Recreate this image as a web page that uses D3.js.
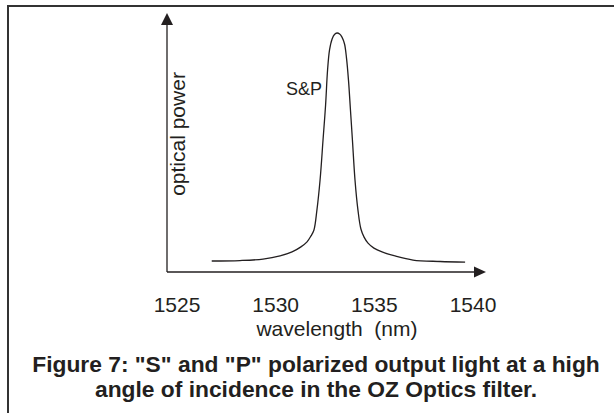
<!DOCTYPE html>
<html>
<head>
<meta charset="utf-8">
<style>
  body { margin: 0; background: #fff; }
  svg { display: block; }
  text { font-family: "Liberation Sans", Arial, sans-serif; fill: #231f20; }
</style>
</head>
<body>
<svg width="614" height="413"></svg>
<script src="https://cdn.jsdelivr.net/npm/d3@7"></script>
<script>

// wavelength (nm) and relative optical power
var wavelength = [1526.76, 1528.19, 1529.36, 1530.22, 1530.83, 1531.28, 1531.59, 1531.79, 1531.94, 1532.09,
                  1532.25, 1532.40, 1532.53, 1532.63, 1532.73, 1532.86, 1532.98, 1533.11, 1533.24, 1533.36,
                  1533.49, 1533.59, 1533.69, 1533.79, 1533.89, 1534.02, 1534.17, 1534.32, 1534.48, 1534.68,
                  1534.98, 1535.39, 1536.05, 1536.96, 1538.33, 1539.60];
var power      = [0.046, 0.048, 0.054, 0.067, 0.084, 0.105, 0.126, 0.151, 0.176, 0.259,
                  0.385, 0.552, 0.699, 0.845, 0.929, 0.975, 0.994, 1.000, 0.996, 0.983,
                  0.954, 0.895, 0.803, 0.678, 0.552, 0.385, 0.259, 0.180, 0.146, 0.121,
                  0.100, 0.084, 0.067, 0.050, 0.044, 0.041];
var xTicks = [1525, 1530, 1535, 1540];
var caption = ["Figure 7: \"S\" and \"P\" polarized output light at a high",
               "angle of incidence in the OZ Optics filter."];

var svg = d3.select("svg");

// frame (top and left edges only)
svg.append("path")
    .attr("d", "M8,413V6H614")
    .attr("fill", "none")
    .attr("stroke", "#333")
    .attr("stroke-width", 2);

var x = d3.scaleLinear().domain([1525, 1540]).range([177, 473]);
var y = d3.scaleLinear().domain([0, 1]).range([272, 33]);

var originX = 167, originY = y(0);

// axes with arrow heads
svg.append("line")
    .attr("x1", originX).attr("x2", 476)
    .attr("y1", originY).attr("y2", originY)
    .attr("stroke", "#231f20").attr("stroke-width", 1.3);
svg.append("path")
    .attr("d", "M474," + (originY - 5.5) + "L486," + originY + "L474," + (originY + 5.5) + "Z")
    .attr("fill", "#231f20");

svg.append("line")
    .attr("x1", originX).attr("x2", originX)
    .attr("y1", originY).attr("y2", 22)
    .attr("stroke", "#231f20").attr("stroke-width", 1.3);
svg.append("path")
    .attr("d", "M" + (originX - 6) + ",25L" + originX + ",13L" + (originX + 6) + ",25Z")
    .attr("fill", "#231f20");

// tick labels
svg.append("g")
  .selectAll("text")
  .data(xTicks)
  .enter().append("text")
    .attr("x", function(d) { return x(d); })
    .attr("y", 312)
    .attr("text-anchor", "middle")
    .attr("font-size", 21)
    .text(function(d) { return d; });

svg.append("text")
    .attr("x", 337)
    .attr("y", 336)
    .attr("text-anchor", "middle")
    .attr("font-size", 21)
    .attr("xml:space", "preserve")
    .text("wavelength  (nm)");

svg.append("text")
    .attr("transform", "translate(185,134)rotate(-90)")
    .attr("text-anchor", "middle")
    .attr("font-size", 21)
    .text("optical power");

// the S&P curve
var line = d3.line()
    .x(function(d, i) { return x(wavelength[i]); })
    .y(function(d) { return y(d); })
    .curve(d3.curveCatmullRom.alpha(0.5));

svg.append("path")
    .datum(power)
    .attr("d", line)
    .attr("fill", "none")
    .attr("stroke", "#231f20")
    .attr("stroke-width", 1.3);

svg.append("text")
    .attr("x", 304)
    .attr("y", 95)
    .attr("text-anchor", "middle")
    .attr("font-size", 18)
    .text("S&P");

// caption
svg.append("g")
  .selectAll("text")
  .data(caption)
  .enter().append("text")
    .attr("x", 316)
    .attr("y", function(d, i) { return 372 + i * 25; })
    .attr("text-anchor", "middle")
    .attr("font-size", 22.8)
    .attr("font-weight", "bold")
    .text(function(d) { return d; });

</script>
</body>
</html>
